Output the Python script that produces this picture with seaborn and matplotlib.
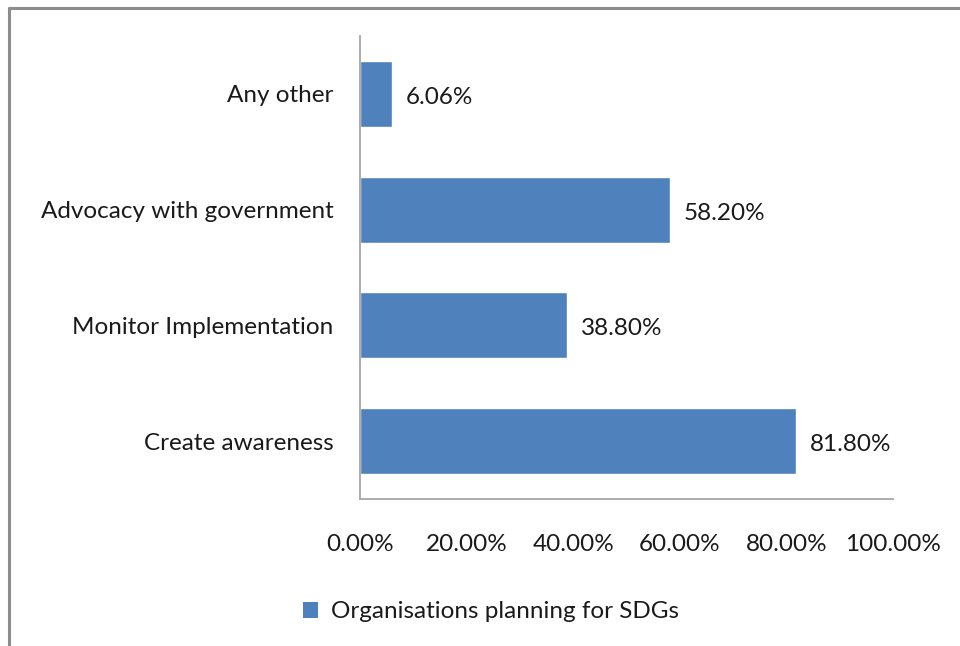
import matplotlib
matplotlib.use("Agg")
import matplotlib.pyplot as plt
from matplotlib.lines import Line2D
from matplotlib.patches import Patch
import seaborn as sns
import pandas as pd

# Survey results
categories = ["Any other", "Advocacy with government", "Monitor Implementation", "Create awareness"]
shares = [0.0606, 0.582, 0.388, 0.818]
value_labels = ["6.06%", "58.20%", "38.80%", "81.80%"]
x_ticks = [0.0, 0.2, 0.4, 0.6, 0.8, 1.0]
x_tick_labels = ["0.00%", "20.00%", "40.00%", "60.00%", "80.00%", "100.00%"]
series_name = "Organisations planning for SDGs"

BAR_COLOR = "#4F81BD"
TEXT_COLOR = "#1a1a1a"
AXIS_COLOR = "#A6A6A6"
FS = 17.5

sns.set_theme(style="white")
plt.rcParams["font.family"] = ["Lato", "DejaVu Sans"]

df = pd.DataFrame({"category": categories, "share": shares})

fig = plt.figure(figsize=(9.6, 6.46), dpi=100)
ax = fig.add_axes([360 / 960, 1 - 499 / 646, (893 - 360) / 960, (499 - 36) / 646])

sns.barplot(data=df, x="share", y="category", order=categories, color=BAR_COLOR,
            width=0.57, saturation=1, orient="h", ax=ax)

ax.set_xlim(0, 1)
ax.set_xticks(x_ticks)
ax.set_xticklabels(x_tick_labels)
ax.set_xlabel("")
ax.set_ylabel("")
ax.tick_params(axis="x", length=0, pad=25, labelsize=FS, labelcolor=TEXT_COLOR)
ax.tick_params(axis="y", length=0, pad=19, labelsize=FS, labelcolor=TEXT_COLOR)

for side in ["top", "right"]:
    ax.spines[side].set_visible(False)
for side in ["left", "bottom"]:
    ax.spines[side].set_color(AXIS_COLOR)
    ax.spines[side].set_linewidth(1.3)

labels = ax.bar_label(ax.containers[0], labels=value_labels, padding=10,
                      fontsize=FS, color=TEXT_COLOR)
for t in labels:
    t.xyann = (10, -2.5)

# Legend below the plot
handle = Patch(facecolor=BAR_COLOR, edgecolor="none")
fig.legend([handle], [series_name], loc="center", bbox_to_anchor=(491 / 960, 1 - 612 / 646),
           frameon=False, fontsize=FS, handlelength=0.62, handleheight=0.62,
           handletextpad=0.5, labelcolor=TEXT_COLOR)

# Outer chart frame (left and top edges)
frame_kw = dict(color="#8C8C8C", linewidth=2.2, transform=fig.transFigure)
fig.add_artist(Line2D([9 / 960, 9 / 960], [0, 1 - 8 / 646], **frame_kw))
fig.add_artist(Line2D([9 / 960, 1], [1 - 8 / 646, 1 - 8 / 646], **frame_kw))

fig.savefig("out.png", dpi=100, facecolor="white")
